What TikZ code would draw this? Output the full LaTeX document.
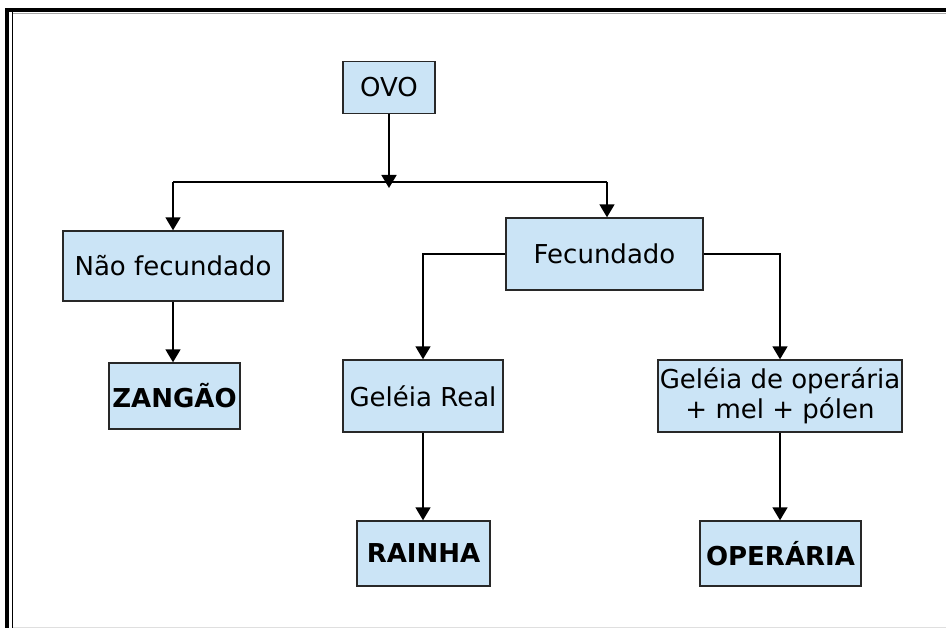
\documentclass[tikz,border=0pt]{standalone}
\usepackage{fontspec}
\setmainfont{DejaVu Sans}
\usetikzlibrary{arrows.meta}
\definecolor{boxblue}{RGB}{203,228,246}
\definecolor{boxline}{RGB}{40,40,40}
\tikzset{
  box/.style={draw=boxline, line width=1.4pt, fill=boxblue, inner sep=0pt, align=center,
    font=\fontsize{26}{30}\selectfont},
  boldbox/.style={box, font=\fontsize{26}{30}\selectfont\bfseries},
  arr/.style={draw=black, line width=1.6pt, -{Triangle[length=13pt,width=15pt]}},
  ln/.style={draw=black, line width=1.6pt}
}
\begin{document}
\begin{tikzpicture}[x=1pt,y=-1pt]
\useasboundingbox (0,0) rectangle (946,628);
\fill[white] (0,0) rectangle (946,628);
% frame
\fill[black] (5,8) rectangle (946,12.5);
\fill[black] (5,8) rectangle (9,628);
\fill[black] (11.5,12.5) rectangle (13,628);
\draw[gray!70, line width=1pt] (13,13.5) -- (946,13.5);
\draw[gray!25, line width=1pt] (13,627) -- (946,627);
% nodes
\node[box, minimum width=92pt, minimum height=52pt] (ovo) at (389,87.5) {OVO};
\node[box, minimum width=220pt, minimum height=70pt] (nf) at (173,266) {Não fecundado};
\node[boldbox, minimum width=131pt, minimum height=66pt] (zg) at (174.5,396) {ZANGÃO};
\node[box, minimum width=197pt, minimum height=72pt] (fc) at (604.5,254) {Fecundado};
\node[box, minimum width=160pt, minimum height=72pt] (gr) at (423,396) {Geléia Real};
\node[boldbox, minimum width=133pt, minimum height=65pt] (ra) at (423.5,553.5) {RAINHA};
\node[box, minimum width=244pt, minimum height=72pt] (go) at (780,396) {Geléia de operária\\+ mel + pólen};
\node[boldbox, minimum width=161pt, minimum height=65pt] (op) at (780.5,553.5) {OPERÁRIA};
% connectors
\coordinate (jc) at (389,188);
\coordinate (jl) at (173,182);
\coordinate (jr) at (607,182);
\draw[arr] (ovo.south) -- (jc);
\draw[ln] (jl) -- (jr);
\draw[arr] (jl) -- (nf.north);
\draw[arr] (jr) -- (jr |- fc.north);
\draw[arr] (nf.south) -- (nf.south |- zg.north);
\draw[arr] (fc.west) -| (gr.north);
\draw[arr] (fc.east) -| (go.north);
\draw[arr] (gr.south) -- (gr.south |- ra.north);
\draw[arr] (go.south) -- (go.south |- op.north);
\end{tikzpicture}
\end{document}
